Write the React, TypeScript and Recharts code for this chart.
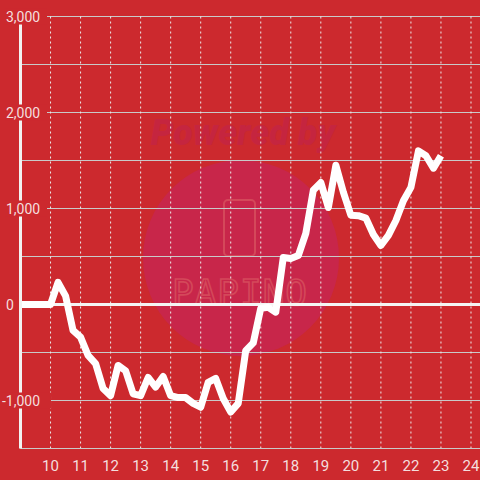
import { LineChart, Line, XAxis, YAxis, ReferenceLine } from "recharts";

// quarter-hour readings
const times = [
  9, 9.25, 9.5, 9.75, 10, 10.25, 10.5, 10.75, 11, 11.25, 11.5, 11.75,
  12, 12.25, 12.5, 12.75, 13, 13.25, 13.5, 13.75, 14, 14.25, 14.5, 14.75,
  15, 15.25, 15.5, 15.75, 16, 16.25, 16.5, 16.75, 17, 17.25, 17.5, 17.75,
  18, 18.25, 18.5, 18.75, 19, 19.25, 19.5, 19.75, 20, 20.25, 20.5, 20.75,
  21, 21.25, 21.5, 21.75, 22, 22.25, 22.5, 22.75, 23,
];
const values = [
  0, 0, 0, 0, 0, 230, 90, -270, -340, -530, -615, -875,
  -950, -635, -690, -930, -950, -760, -860, -750, -950, -970, -970, -1030,
  -1070, -810, -770, -980, -1120, -1030, -480, -400, -40, -30, -80, 490,
  480, 510, 740, 1190, 1270, 1010, 1450, 1170, 930, 925, 900, 730,
  615, 720, 875, 1080, 1220, 1600, 1550, 1420, 1550,
];
const xTicks = [10, 11, 12, 13, 14, 15, 16, 17, 18, 19, 20, 21, 22, 23, 24];
const yTicks = [-1500, -1000, -500, 0, 500, 1000, 1500, 2000, 2500, 3000];

const data = times.map((t, i) => ({ t, v: values[i] }));

const BG = "#cc292e";
const FONT = "Roboto, 'Liberation Sans', sans-serif";

function YTick(props: any) {
  const { y, payload } = props;
  const v = payload.value as number;
  if (v % 1000 !== 0 || v <= -1500) return null;
  const label = v.toLocaleString("en-US");
  const w = label.length * 8 + 2;
  const x0 = v < 0 ? 2 : 6;
  return (
    <g>
      <rect x={x0 - 1} y={y - 8} width={w} height={16} fill={BG} />
      <text x={x0} y={y + 5} fill="#f4dede" fontSize={14} fontFamily={FONT}>
        {label}
      </text>
    </g>
  );
}

function Watermark() {
  return (
    <svg width={480} height={480} style={{ position: "absolute", left: 0, top: 0 }}>
      <circle cx={241} cy={258} r={98} fill="#c8264a" />
      <text
        x={243}
        y={145}
        textAnchor="middle"
        fontSize={36}
        fontWeight={900}
        fontStyle="italic"
        fontFamily={FONT}
        fill="#c5253f"
      >
        Powered by
      </text>
      <rect x={224} y={200} width={31} height={56} rx={4} fill="none" stroke="#d4485a" strokeWidth={2} />
      <text
        x={240}
        y={305}
        textAnchor="middle"
        fontSize={36}
        fontFamily="'DejaVu Sans Mono', monospace"
        letterSpacing={1}
        fill="none"
        stroke="#d4485a"
        strokeWidth={1.6}
      >
        PAPINO
      </text>
    </svg>
  );
}

export default function App() {
  return (
    <div style={{ position: "absolute", left: 0, top: 0, width: 480, height: 480, background: BG, overflow: "hidden" }}>
      <Watermark />
      <div style={{ position: "absolute", left: 0, top: 0 }}>
        <LineChart width={480} height={480} data={data} margin={{ top: 16.5, right: 0, left: 0, bottom: 0 }}>
          {yTicks.map((v) => (
            <ReferenceLine key={"y" + v} y={v} stroke="#c9c9c9" strokeWidth={1} />
          ))}
          {xTicks.map((h) => (
            <ReferenceLine key={"x" + h} x={h} stroke="#ececec" strokeWidth={1} strokeDasharray="2 3" />
          ))}
          <XAxis
            dataKey="t"
            type="number"
            domain={[9, 24.3]}
            ticks={xTicks}
            allowDataOverflow
            height={31.5}
            axisLine={{ stroke: "#c9c9c9", strokeWidth: 1 }}
            tickLine={false}
            tick={{ fill: "#f4dede", fontSize: 15, fontFamily: FONT }}
            tickMargin={6}
          />
          <YAxis
            type="number"
            domain={[-1500, 3000]}
            ticks={yTicks}
            width={20.5}
            axisLine={{ stroke: "#f2f2f2", strokeWidth: 3 }}
            tickLine={false}
            tick={<YTick />}
          />
          <ReferenceLine y={0} stroke="#f4f4f4" strokeWidth={3} />
          <Line
            dataKey="v"
            type="linear"
            stroke="#ffffff"
            strokeWidth={7}
            dot={false}
            strokeLinejoin="round"
            isAnimationActive={false}
          />
        </LineChart>
      </div>
    </div>
  );
}
